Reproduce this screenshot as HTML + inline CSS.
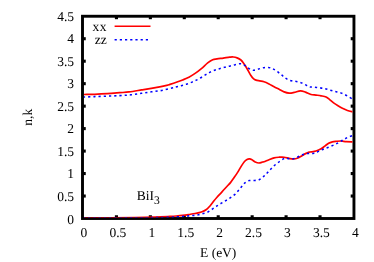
<!DOCTYPE html>
<html><head><meta charset="utf-8"><style>
html,body{margin:0;padding:0;background:#fff;}
body{width:374px;height:262px;overflow:hidden;}
svg{display:block;will-change:transform}
text{font-family:"Liberation Serif",serif;font-size:13.5px;fill:#000;text-rendering:geometricPrecision;}
</style></head><body>
<svg width="374" height="262" viewBox="0 0 374 262">
<defs><clipPath id="pc"><rect x="84.0" y="17" width="268.45" height="200.5"/></clipPath></defs>
<rect width="374" height="262" fill="#fff"/>
<g stroke="#000" stroke-width="2.9" fill="none">
<rect x="82.5" y="16.25" width="271.45" height="202.25"/>
<g stroke-width="3.1"><line x1="116.43" y1="218.50" x2="116.43" y2="215.25"/><line x1="116.43" y1="16.25" x2="116.43" y2="19.20"/><line x1="150.36" y1="218.50" x2="150.36" y2="215.25"/><line x1="150.36" y1="16.25" x2="150.36" y2="19.20"/><line x1="184.29" y1="218.50" x2="184.29" y2="215.25"/><line x1="184.29" y1="16.25" x2="184.29" y2="19.20"/><line x1="218.22" y1="218.50" x2="218.22" y2="215.25"/><line x1="218.22" y1="16.25" x2="218.22" y2="19.20"/><line x1="252.16" y1="218.50" x2="252.16" y2="215.25"/><line x1="252.16" y1="16.25" x2="252.16" y2="19.20"/><line x1="286.09" y1="218.50" x2="286.09" y2="215.25"/><line x1="286.09" y1="16.25" x2="286.09" y2="19.20"/><line x1="320.02" y1="218.50" x2="320.02" y2="215.25"/><line x1="320.02" y1="16.25" x2="320.02" y2="19.20"/><line x1="82.50" y1="196.03" x2="85.75" y2="196.03"/><line x1="353.95" y1="196.03" x2="350.70" y2="196.03"/><line x1="82.50" y1="173.56" x2="85.75" y2="173.56"/><line x1="353.95" y1="173.56" x2="350.70" y2="173.56"/><line x1="82.50" y1="151.08" x2="85.75" y2="151.08"/><line x1="353.95" y1="151.08" x2="350.70" y2="151.08"/><line x1="82.50" y1="128.61" x2="85.75" y2="128.61"/><line x1="353.95" y1="128.61" x2="350.70" y2="128.61"/><line x1="82.50" y1="106.14" x2="85.75" y2="106.14"/><line x1="353.95" y1="106.14" x2="350.70" y2="106.14"/><line x1="82.50" y1="83.67" x2="85.75" y2="83.67"/><line x1="353.95" y1="83.67" x2="350.70" y2="83.67"/><line x1="82.50" y1="61.19" x2="85.75" y2="61.19"/><line x1="353.95" y1="61.19" x2="350.70" y2="61.19"/><line x1="82.50" y1="38.72" x2="85.75" y2="38.72"/><line x1="353.95" y1="38.72" x2="350.70" y2="38.72"/></g>
</g>
<g fill="none" stroke-width="1.7" stroke-linejoin="round" clip-path="url(#pc)">
<path d="M82.50 94.62 C82.73 94.60 81.88 94.57 83.90 94.52 C85.92 94.47 90.73 94.45 94.60 94.32 C98.47 94.19 102.92 93.99 107.10 93.72 C111.28 93.45 116.05 93.02 119.70 92.72 C123.35 92.42 125.35 92.39 129.00 91.92 C132.65 91.45 137.42 90.60 141.60 89.92 C145.78 89.24 149.92 88.59 154.10 87.82 C158.28 87.05 164.05 85.90 166.70 85.32 C169.35 84.74 168.40 84.84 170.00 84.32 C171.60 83.80 174.20 82.95 176.30 82.22 C178.40 81.49 180.50 80.75 182.60 79.92 C184.70 79.09 186.82 78.30 188.90 77.22 C190.98 76.14 193.02 74.85 195.10 73.42 C197.18 71.99 199.30 70.37 201.40 68.62 C203.50 66.87 205.82 64.39 207.70 62.90 C209.58 61.41 211.15 60.37 212.70 59.70 C214.25 59.03 215.23 59.17 217.00 58.90 C218.77 58.63 221.20 58.38 223.30 58.10 C225.40 57.82 227.93 57.38 229.60 57.20 C231.27 57.02 232.05 56.88 233.30 57.00 C234.55 57.12 235.83 57.40 237.10 57.90 C238.37 58.40 239.85 59.17 240.90 60.00 C241.95 60.83 242.57 61.78 243.40 62.90 C244.23 64.02 245.07 65.33 245.90 66.70 C246.73 68.07 247.57 69.63 248.40 71.10 C249.23 72.57 250.07 74.25 250.90 75.50 C251.73 76.75 252.55 77.83 253.40 78.60 C254.25 79.37 254.95 79.72 256.00 80.10 C257.05 80.48 258.37 80.63 259.70 80.90 C261.03 81.17 262.45 81.20 264.00 81.70 C265.55 82.20 267.32 83.05 269.00 83.90 C270.68 84.75 272.42 85.90 274.10 86.80 C275.78 87.70 277.43 88.45 279.10 89.30 C280.77 90.15 282.43 91.27 284.10 91.90 C285.77 92.53 287.42 93.02 289.10 93.10 C290.78 93.18 292.32 92.78 294.20 92.40 C296.08 92.02 298.52 90.85 300.40 90.80 C302.28 90.75 303.73 91.48 305.50 92.10 C307.27 92.72 309.25 94.00 311.00 94.50 C312.75 95.00 314.32 94.88 316.00 95.10 C317.68 95.32 319.42 95.48 321.10 95.80 C322.78 96.12 324.63 96.33 326.10 97.00 C327.57 97.67 328.65 98.82 329.90 99.80 C331.15 100.78 332.25 101.90 333.60 102.90 C334.95 103.90 336.53 104.90 338.00 105.80 C339.47 106.70 340.83 107.52 342.40 108.30 C343.97 109.08 345.72 109.93 347.40 110.50 C349.08 111.07 351.40 111.47 352.50 111.70 C353.60 111.93 353.75 111.87 354.00 111.90" stroke="#f00"/>
<path d="M82.50 97.07 C82.73 97.06 81.88 97.09 83.90 97.02 C85.92 96.94 90.73 96.77 94.60 96.62 C98.47 96.47 102.92 96.29 107.10 96.12 C111.28 95.95 115.73 95.84 119.70 95.62 C123.67 95.40 127.25 95.20 130.90 94.82 C134.55 94.44 138.15 93.82 141.60 93.32 C145.05 92.82 148.25 92.30 151.60 91.82 C154.95 91.34 158.32 91.07 161.70 90.42 C165.08 89.77 169.37 88.54 171.90 87.92 C174.43 87.30 175.23 87.12 176.90 86.72 C178.57 86.32 180.22 85.97 181.90 85.52 C183.58 85.07 185.32 84.59 187.00 84.02 C188.68 83.45 190.43 82.77 192.00 82.12 C193.57 81.47 194.93 80.85 196.40 80.12 C197.87 79.39 199.23 78.63 200.80 77.72 C202.37 76.81 204.23 75.58 205.80 74.65 C207.37 73.72 208.63 72.93 210.20 72.15 C211.77 71.37 213.65 70.53 215.20 69.95 C216.75 69.37 217.95 69.08 219.50 68.65 C221.05 68.22 222.82 67.77 224.50 67.35 C226.18 66.93 227.82 66.60 229.60 66.15 C231.38 65.70 233.43 65.05 235.20 64.65 C236.97 64.25 238.63 63.65 240.20 63.75 C241.77 63.85 243.23 64.52 244.60 65.25 C245.97 65.98 246.93 67.32 248.40 68.15 C249.87 68.98 251.72 70.10 253.40 70.25 C255.08 70.40 256.92 69.45 258.50 69.05 C260.08 68.65 261.25 68.12 262.90 67.85 C264.55 67.58 266.75 67.30 268.40 67.45 C270.05 67.60 271.33 68.07 272.80 68.75 C274.27 69.43 275.73 70.52 277.20 71.55 C278.67 72.58 280.23 73.85 281.60 74.95 C282.97 76.05 284.03 77.25 285.40 78.15 C286.77 79.05 288.23 79.83 289.80 80.35 C291.37 80.87 293.13 80.93 294.80 81.25 C296.47 81.57 298.13 81.72 299.80 82.25 C301.47 82.78 303.23 83.70 304.80 84.45 C306.37 85.20 307.75 86.32 309.20 86.75 C310.65 87.18 311.83 86.88 313.50 87.05 C315.17 87.22 317.42 87.50 319.20 87.75 C320.98 88.00 322.53 88.20 324.20 88.55 C325.87 88.90 327.53 89.40 329.20 89.85 C330.87 90.30 332.52 90.82 334.20 91.25 C335.88 91.68 337.62 91.93 339.30 92.45 C340.98 92.97 342.73 93.62 344.30 94.35 C345.87 95.08 347.33 96.07 348.70 96.85 C350.07 97.63 351.62 98.53 352.50 99.05 C353.38 99.57 353.75 99.80 354.00 99.95" stroke="#00f" stroke-width="1.55" stroke-dasharray="2.2 3" stroke-dashoffset="-0.5"/>
<path d="M82.50 218.00 C87.08 217.98 101.25 217.97 110.00 217.90 C118.75 217.83 127.50 217.73 135.00 217.60 C142.50 217.47 149.17 217.30 155.00 217.10 C160.83 216.90 166.45 216.58 170.00 216.40 C173.55 216.22 174.20 216.17 176.30 216.00 C178.40 215.83 180.50 215.65 182.60 215.40 C184.70 215.15 186.82 214.82 188.90 214.50 C190.98 214.18 193.02 213.92 195.10 213.50 C197.18 213.08 199.52 212.67 201.40 212.00 C203.28 211.33 204.93 210.55 206.40 209.50 C207.87 208.45 208.93 207.17 210.20 205.70 C211.47 204.23 212.87 202.12 214.00 200.70 C215.13 199.28 215.67 198.67 217.00 197.20 C218.33 195.73 220.32 193.73 222.00 191.90 C223.68 190.07 225.68 187.75 227.10 186.20 C228.52 184.65 229.38 183.97 230.50 182.60 C231.62 181.23 232.62 179.70 233.80 178.00 C234.98 176.30 236.35 174.38 237.60 172.40 C238.85 170.42 240.15 167.92 241.30 166.10 C242.45 164.28 243.55 162.62 244.50 161.50 C245.45 160.38 246.17 159.83 247.00 159.40 C247.83 158.97 248.67 158.83 249.50 158.90 C250.33 158.97 251.05 159.28 252.00 159.80 C252.95 160.32 254.05 161.47 255.20 162.00 C256.35 162.53 257.65 163.00 258.90 163.00 C260.15 163.00 261.85 162.22 262.70 162.02 C263.55 161.82 262.95 162.20 264.00 161.82 C265.05 161.44 267.32 160.39 269.00 159.72 C270.68 159.05 272.42 158.24 274.10 157.82 C275.78 157.40 277.43 157.32 279.10 157.22 C280.77 157.12 282.43 157.02 284.10 157.22 C285.77 157.42 287.53 158.12 289.10 158.42 C290.67 158.72 292.03 159.09 293.50 159.02 C294.97 158.95 296.53 158.54 297.90 158.02 C299.27 157.50 300.43 156.65 301.70 155.92 C302.97 155.19 304.25 154.25 305.50 153.62 C306.75 152.99 308.28 152.40 309.20 152.12 C310.12 151.84 309.87 152.10 311.00 151.92 C312.13 151.74 314.32 151.54 316.00 151.02 C317.68 150.50 319.63 149.64 321.10 148.82 C322.57 148.00 323.55 147.05 324.80 146.12 C326.05 145.19 327.33 143.94 328.60 143.22 C329.87 142.50 331.15 142.14 332.40 141.82 C333.65 141.50 334.63 141.45 336.10 141.32 C337.57 141.19 339.52 140.95 341.20 141.02 C342.88 141.09 344.32 141.57 346.20 141.72 C348.08 141.87 351.20 141.89 352.50 141.92 C353.80 141.95 353.75 141.92 354.00 141.92" stroke="#f00"/>
<path d="M82.50 218.10 C87.08 218.08 101.25 218.05 110.00 218.00 C118.75 217.95 127.50 217.87 135.00 217.80 C142.50 217.73 149.17 217.68 155.00 217.60 C160.83 217.52 166.25 217.43 170.00 217.30 C173.75 217.17 175.40 216.95 177.50 216.80 C179.60 216.65 180.92 216.53 182.60 216.40 C184.28 216.27 185.83 216.15 187.60 216.00 C189.37 215.85 191.42 215.70 193.20 215.50 C194.98 215.30 196.62 215.13 198.30 214.80 C199.98 214.47 201.63 214.00 203.30 213.50 C204.97 213.00 206.73 212.57 208.30 211.80 C209.87 211.03 211.25 209.88 212.70 208.90 C214.15 207.92 215.55 206.85 217.00 205.90 C218.45 204.95 219.93 204.08 221.40 203.20 C222.87 202.32 224.33 201.48 225.80 200.60 C227.27 199.72 228.73 198.88 230.20 197.90 C231.67 196.92 233.23 195.92 234.60 194.70 C235.97 193.48 237.25 191.92 238.40 190.60 C239.55 189.28 240.42 188.08 241.50 186.80 C242.58 185.52 243.62 183.93 244.90 182.90 C246.18 181.87 247.58 181.00 249.20 180.60 C250.82 180.20 252.87 180.68 254.60 180.50 C256.33 180.32 258.03 180.23 259.60 179.50 C261.17 178.77 262.70 177.25 264.00 176.12 C265.30 174.99 266.25 173.90 267.40 172.72 C268.55 171.54 269.58 170.35 270.90 169.02 C272.22 167.69 273.73 166.07 275.30 164.72 C276.87 163.37 278.73 161.97 280.30 160.92 C281.87 159.87 283.12 158.79 284.70 158.42 C286.28 158.05 288.12 158.72 289.80 158.72 C291.48 158.72 293.13 158.89 294.80 158.42 C296.47 157.95 298.13 156.67 299.80 155.92 C301.47 155.17 303.12 154.34 304.80 153.92 C306.48 153.50 308.23 153.54 309.90 153.42 C311.57 153.30 313.25 153.62 314.80 153.22 C316.35 152.82 317.63 151.75 319.20 151.02 C320.77 150.29 322.53 149.49 324.20 148.82 C325.87 148.15 327.53 147.69 329.20 147.02 C330.87 146.35 332.63 145.55 334.20 144.82 C335.77 144.09 337.13 143.42 338.60 142.62 C340.07 141.82 341.53 140.87 343.00 140.02 C344.47 139.17 345.82 138.25 347.40 137.52 C348.98 136.79 351.40 136.02 352.50 135.62 C353.60 135.22 353.75 135.20 354.00 135.12" stroke="#00f" stroke-width="1.55" stroke-dasharray="2.2 3" stroke-dashoffset="-0.6"/>
</g>
<g fill="none" stroke-width="1.7">
<line x1="114.6" y1="26.25" x2="150.5" y2="26.25" stroke="#f00"/>
<line x1="114.6" y1="39.8" x2="150.5" y2="39.8" stroke="#00f" stroke-width="1.55" stroke-dasharray="2.2 3"/>
</g>
<g><text x="83.90" y="237" text-anchor="middle">0</text><text x="117.83" y="237" text-anchor="middle">0.5</text><text x="151.76" y="237" text-anchor="middle">1</text><text x="185.69" y="237" text-anchor="middle">1.5</text><text x="219.62" y="237" text-anchor="middle">2</text><text x="253.56" y="237" text-anchor="middle">2.5</text><text x="287.49" y="237" text-anchor="middle">3</text><text x="321.42" y="237" text-anchor="middle">3.5</text><text x="355.35" y="237" text-anchor="middle">4</text><text x="74.0" y="224" text-anchor="end">0</text><text x="74.0" y="201" text-anchor="end">0.5</text><text x="74.0" y="178" text-anchor="end">1</text><text x="74.0" y="156" text-anchor="end">1.5</text><text x="74.0" y="133" text-anchor="end">2</text><text x="74.0" y="111" text-anchor="end">2.5</text><text x="74.0" y="88" text-anchor="end">3</text><text x="74.0" y="66" text-anchor="end">3.5</text><text x="74.0" y="43" text-anchor="end">4</text><text x="74.0" y="21" text-anchor="end">4.5</text></g>
<text x="106.8" y="31" text-anchor="end" letter-spacing="0.4">xx</text>
<text x="106.8" y="44" text-anchor="end">zz</text>
<text x="136.8" y="200">BiI<tspan dy="4" font-size="11.6">3</tspan></text>
<text x="218.2" y="257" text-anchor="middle" font-size="13.7">E (eV)</text>
<text transform="translate(32.4 117.3) rotate(-90)" text-anchor="middle">n,k</text>
</svg>
</body></html>
